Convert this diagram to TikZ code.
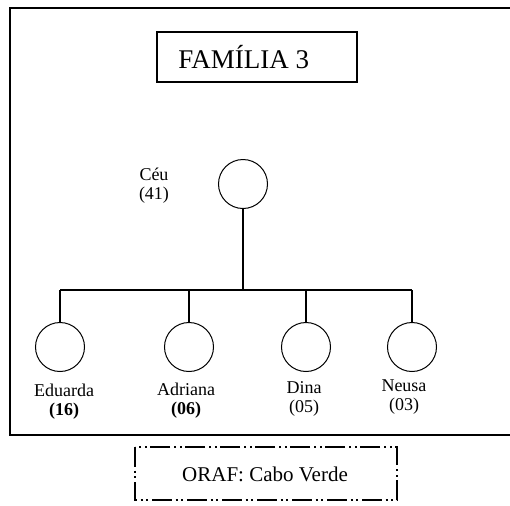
\documentclass[tikz,border=0pt]{standalone}
\usepackage{fontspec}
\setmainfont{Liberation Serif}
\begin{document}
\begin{tikzpicture}[x=0.5pt, y=-0.5pt,
    person/.style={draw, circle, line width=0.5pt, minimum size=24.5pt, inner sep=0pt},
    lbl/.style={font=\fontsize{9}{9.5}\selectfont, align=center, inner sep=0pt},
    link/.style={line width=0.55pt},
    origin/.style={line width=0.9pt, dash pattern=on 10pt off 1.75pt on 1pt off 1.75pt on 1pt off 2pt},
  ]
  \useasboundingbox (0,0) rectangle (510,505);
  % outer frame, open on the right
  \draw[line width=0.6pt] (510,8) -- (10,8) -- (10,435) -- (510,435);
  % title
  \node[draw, line width=0.8pt, minimum width=100pt, minimum height=25pt] (title) at (257,57) {};
  \node[font=\fontsize{13.5}{15}\selectfont, inner sep=0pt, anchor=base west] (titletxt) at (178,68) {FAMÍLIA 3};
  % mother
  \node[person] (ceu) at (243,184) {};
  \node[lbl] (ceulbl) at (154,186) {Céu\\(41)};
  % children
  \foreach \x/\n in {60/edu,189/adr,306/din,412/neu}{
    \node[person] (\n) at (\x,347) {};
  }
  \coordinate (bar) at (245,290);
  \draw[link] (ceu.south) -- (ceu.south |- bar);
  \draw[link] (edu |- bar) -- (neu |- bar);
  \foreach \n in {edu,adr,din,neu}{
    \draw[link] (\n |- bar) -- (\n.north);
  }
  \node[lbl] (edulbl) at (64,402) {Eduarda\\\textbf{(16)}};
  \node[lbl] (adrlbl) at (186,401) {Adriana\\\textbf{(06)}};
  \node[lbl] (dinlbl) at (304,399) {Dina\\(05)};
  \node[lbl] (neulbl) at (404,397) {Neusa\\(03)};
  % origin
  \draw[origin] (135,447) rectangle (397,500);
  \node[font=\fontsize{10.5}{12}\selectfont, inner sep=0pt] (orig) at (265,474) {ORAF: Cabo Verde};
\end{tikzpicture}
\end{document}
